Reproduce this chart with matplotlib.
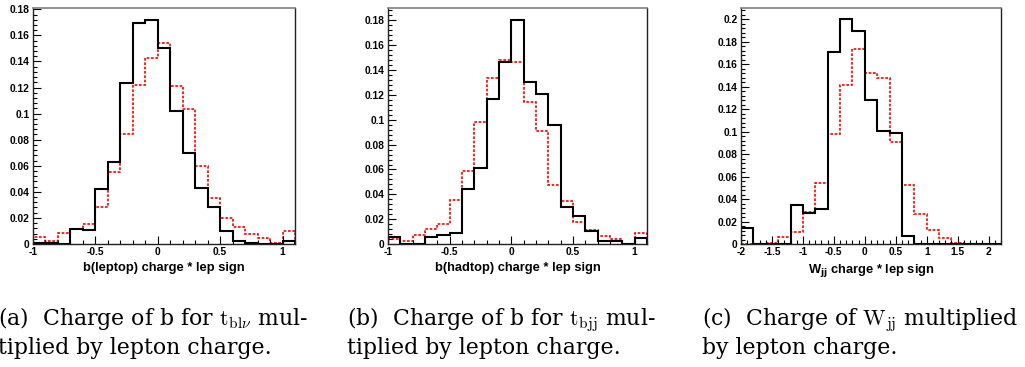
import numpy as np
import matplotlib
matplotlib.use("Agg")
import matplotlib.pyplot as plt
from matplotlib.ticker import AutoMinorLocator, FormatStrFormatter, MultipleLocator

plt.rcParams['axes.unicode_minus'] = False
plt.rcParams['mathtext.fontset'] = 'cm'

# bin edges of the three histograms
edges_a = np.round(np.arange(-1.0, 1.15, 0.1), 2)
edges_b = np.round(np.arange(-1.0, 1.15, 0.1), 2)
edges_c = np.round(np.arange(-2.0, 2.3, 0.2), 2)

# (a) b(leptop) charge * lep sign
black_a = [0.0005, 0.001, 0.0, 0.0113, 0.0108, 0.042, 0.0628, 0.1231, 0.1697, 0.172,
           0.1503, 0.1018, 0.0695, 0.0426, 0.0287, 0.0103, 0.0026, 0.001, 0.0003, 0.0003, 0.0023]
red_a = [0.0056, 0.0026, 0.0082, 0.0118, 0.0154, 0.0282, 0.0551, 0.0841, 0.1223, 0.1428,
         0.1541, 0.121, 0.1036, 0.0595, 0.0349, 0.02, 0.0133, 0.0077, 0.0049, 0.001, 0.0097]

# (b) b(hadtop) charge * lep sign
black_b = [0.0054, 0.0003, 0.0002, 0.0054, 0.0075, 0.0086, 0.0444, 0.0611, 0.1168, 0.1467,
           0.1806, 0.1306, 0.1209, 0.0961, 0.0301, 0.0229, 0.0108, 0.0022, 0.0027, 0.0002, 0.0051]
red_b = [0.0043, 0.0027, 0.0075, 0.0124, 0.0162, 0.0358, 0.0589, 0.098, 0.134, 0.1483,
         0.1467, 0.1141, 0.0912, 0.0474, 0.0345, 0.0175, 0.0113, 0.0062, 0.0043, 0.0003, 0.0089]

# (c) W_jj charge * lep sign
black_c = [0.014, 0.0, 0.0, 0.0, 0.0345, 0.028, 0.0307, 0.1711, 0.2, 0.1893,
           0.128, 0.1006, 0.0988, 0.0068, 0.0, 0.0, 0.0, 0.0, 0.0, 0.0, 0.0]
red_c = [0.0, 0.0, 0.0012, 0.006, 0.011, 0.0286, 0.0545, 0.0979, 0.1414, 0.1735,
         0.152, 0.1473, 0.0908, 0.0521, 0.0265, 0.0125, 0.0057, 0.001, 0.0, 0.0, 0.0]

xlabels = ["b(leptop) charge * lep sign", "b(hadtop) charge * lep sign",
           r"W$_{\mathbf{jj}}$ charge * lep sign"]
captions = [
    (r"(a)  Charge of b for $\mathrm{t}_{\mathrm{bl}\nu}$ mul-", "tiplied by lepton charge."),
    (r"(b)  Charge of b for $\mathrm{t}_{\mathrm{bjj}}$ mul-", "tiplied by lepton charge."),
    (r"(c)  Charge of $\mathrm{W}_{\mathrm{jj}}$ multiplied", "by lepton charge."),
]
ymax = [0.181, 0.190, 0.210]

fig = plt.figure(figsize=(10.25, 3.67), dpi=100)
W, H = 1025, 367
boxes = [(33, 295), (388, 647), (741, 1001)]
top, bottom = 8, 244
caption_x = [-2, 347, 702]

panels = [(edges_a, black_a, red_a), (edges_b, black_b, red_b), (edges_c, black_c, red_c)]

for i, (edges, blk, red) in enumerate(panels):
    x0, x1 = boxes[i]
    ax = fig.add_axes([x0 / W, (H - bottom) / H, (x1 - x0) / W, (bottom - top) / H])
    ax.stairs(red, edges, color='red', lw=1.2, linestyle=(0, (1.6, 1.0)), baseline=0)
    ax.stairs(blk, edges, color='black', lw=1.5, baseline=0)
    ax.set_xlim(edges[0], edges[-1])
    ax.set_ylim(0, ymax[i])

    ax.xaxis.set_major_locator(MultipleLocator(0.5))
    ax.xaxis.set_minor_locator(AutoMinorLocator(5))
    ax.yaxis.set_major_locator(MultipleLocator(0.02))
    ax.yaxis.set_minor_locator(AutoMinorLocator(5))
    ax.xaxis.set_major_formatter(FormatStrFormatter('%g'))
    ax.yaxis.set_major_formatter(FormatStrFormatter('%g'))
    ax.tick_params(which='both', direction='in', top=False, right=False, width=0.8)
    ax.tick_params(which='major', length=6)
    ax.tick_params(which='minor', length=3)
    ax.tick_params(axis='x', pad=2.5)
    ax.tick_params(axis='y', pad=2.5)
    for lab in ax.get_xticklabels() + ax.get_yticklabels():
        lab.set_fontfamily('Liberation Sans')
        lab.set_fontweight('bold')
        lab.set_fontsize(7.4)

    for side in ['left', 'bottom', 'right']:
        ax.spines[side].set_color('#222222')
        ax.spines[side].set_linewidth(1.0)
    ax.spines['top'].set_color('#808080')
    ax.spines['top'].set_linewidth(1.2)

    xl = ax.set_xlabel(xlabels[i], fontfamily='Liberation Sans', fontweight='bold',
                       fontsize=9.3, labelpad=3)
    xl.set_math_fontfamily('dejavusans')

    cx = caption_x[i] / W
    fig.text(cx, (H - 325) / H, captions[i][0], fontfamily='DejaVu Serif',
             fontsize=15.8, va='baseline', ha='left')
    fig.text(cx, (H - 354) / H, captions[i][1], fontfamily='DejaVu Serif',
             fontsize=15.8, va='baseline', ha='left')

fig.savefig('out.png', dpi=100)
